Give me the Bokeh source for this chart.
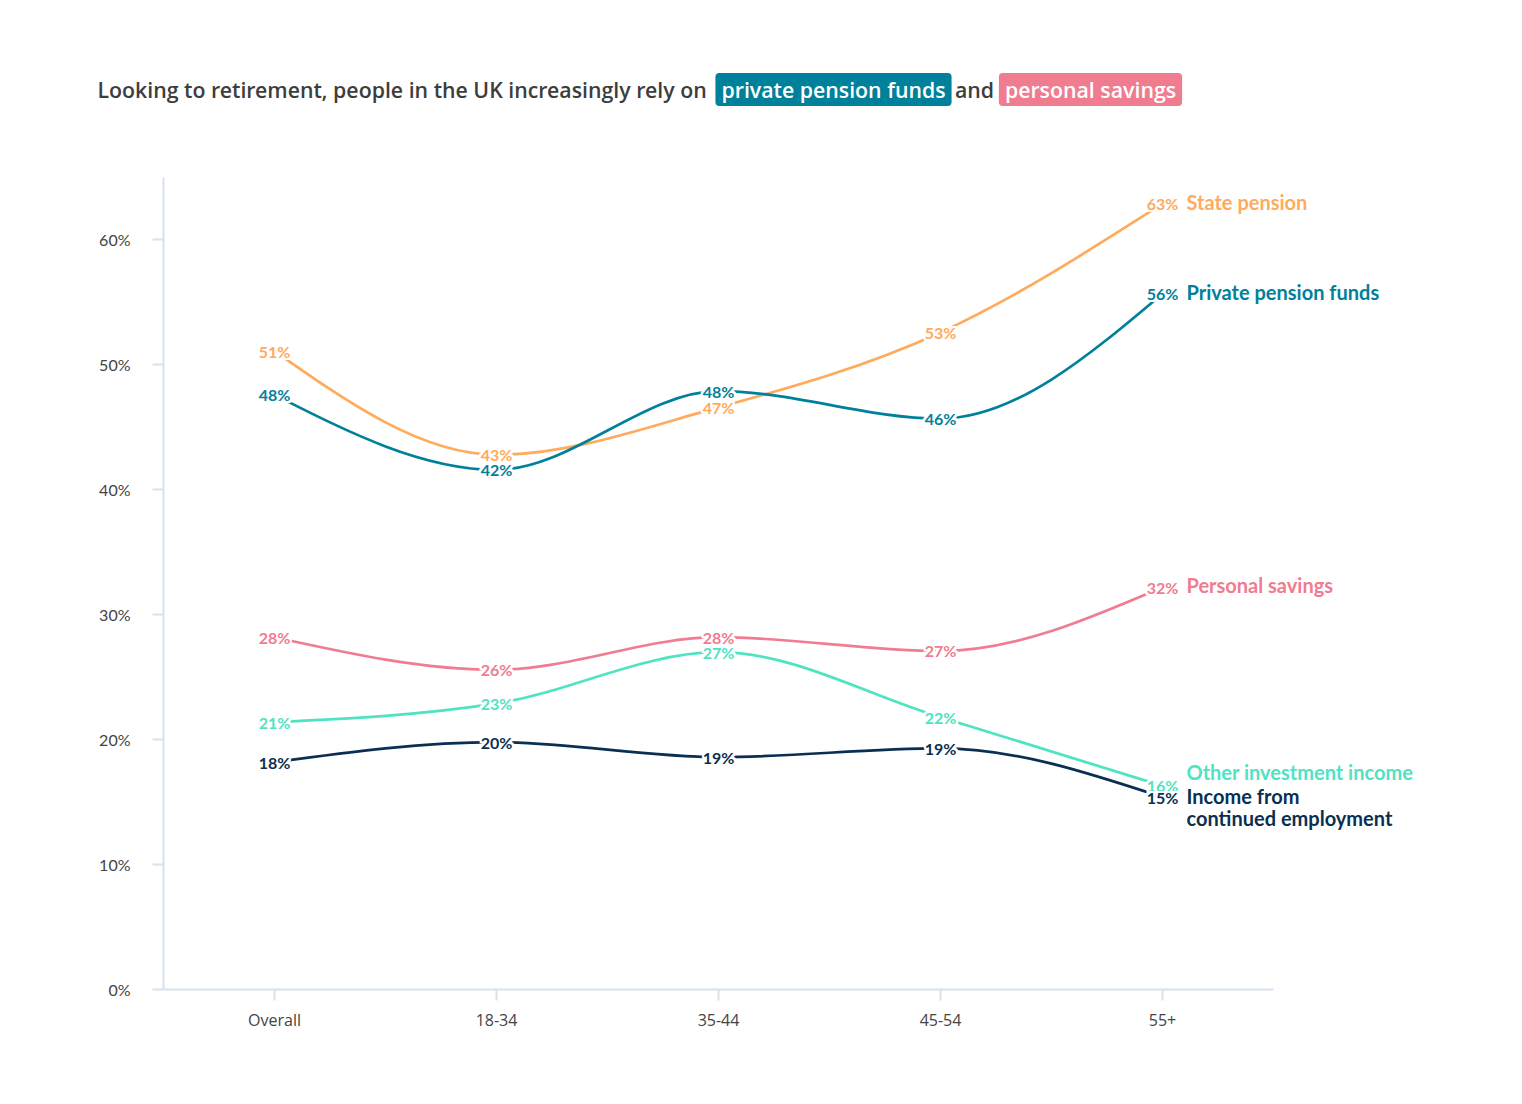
import numpy as np
from bokeh.plotting import figure
from bokeh.models import Label, FixedTicker, PrintfTickFormatter, Range1d, LinearAxis
from bokeh.core.properties import value
from bokeh.embed import file_html
from bokeh.resources import INLINE

# ---------------- data ----------------
categories = ["Overall", "18-34", "35-44", "45-54", "55+"]
state_pension = [51.1, 42.8, 46.6, 52.6, 62.9]
private_pension = [47.6, 41.6, 47.9, 45.7, 55.7]
personal_savings = [28.2, 25.6, 28.2, 27.1, 32.2]
other_investment = [21.4, 22.9, 27.0, 21.8, 16.3]
employment = [18.2, 19.8, 18.6, 19.3, 15.4]
y_ticks = [0, 10, 20, 30, 40, 50, 60]

series = [
    ("State pension", state_pension, "#ffaa5c"),
    ("Private pension funds", private_pension, "#00819b"),
    ("Personal savings", personal_savings, "#f07c90"),
    ("Other investment income", other_investment, "#4fe3c2"),
    ("Income from\ncontinued employment", employment, "#0b2f52"),
]

title_main = "Looking to retirement, people in the UK increasingly rely on"
title_hl1 = "private pension funds"
title_and = "and"
title_hl2 = "personal savings"

FONT = "Lato"
TFONT = "Open Sans SemiBold"
TSIZE = "21.3px"

# ---------------- layout helpers (page pixels) ----------------
W, H = 1520, 1100
AX_LEFT, AX_RIGHT, AX_TOP, AX_BOTTOM = 163, 1273, 177, 989
X_SPAN, Y_SPAN = 5.0, 65.0
PX_X = (AX_RIGHT - AX_LEFT) / X_SPAN
PX_Y = (AX_BOTTOM - AX_TOP) / Y_SPAN


def xd(px):
    return (px - AX_LEFT) / PX_X


def yd(py):
    return (AX_BOTTOM - py) / PX_Y


def monotone_beziers(xs, ys):
    xs = np.asarray(xs, float)
    ys = np.asarray(ys, float)
    n = len(xs)
    h = np.diff(xs)
    s = np.diff(ys) / h
    t = np.zeros(n)
    for i in range(1, n - 1):
        p_ = (s[i - 1] * h[i] + s[i] * h[i - 1]) / (h[i - 1] + h[i])
        t[i] = (np.sign(s[i - 1]) + np.sign(s[i])) * min(abs(s[i - 1]), abs(s[i]), 0.5 * abs(p_))
    t[0] = (3 * s[0] - t[1]) / 2
    t[-1] = (3 * s[-1] - t[-2]) / 2
    d = h / 3
    return dict(
        x0=xs[:-1], y0=ys[:-1], x1=xs[1:], y1=ys[1:],
        cx0=xs[:-1] + d, cy0=ys[:-1] + d * t[:-1],
        cx1=xs[1:] - d, cy1=ys[1:] - d * t[1:],
    )


xs = [i + 0.5 for i in range(len(categories))]

p = figure(
    width=W, height=H,
    x_range=Range1d(xd(0), xd(W)), y_range=Range1d(yd(H), yd(0)),
    output_backend="svg", toolbar_location=None,
    x_axis_location=None, y_axis_location=None,
    min_border=0, min_border_left=0, min_border_right=0,
    min_border_top=0, min_border_bottom=0,
    outline_line_color=None, background_fill_color="white",
    border_fill_color="white",
)
p.grid.visible = False

AX = "#d6e2ec"
yaxis = LinearAxis(fixed_location=0, bounds=(0, Y_SPAN))
xaxis = LinearAxis(fixed_location=0, bounds=(0, X_SPAN))
for ax in (xaxis, yaxis):
    ax.axis_line_color = AX
    ax.axis_line_width = 2
    ax.major_tick_line_color = AX
    ax.major_tick_line_width = 2
    ax.major_tick_in = 0
    ax.major_tick_out = 11
    ax.minor_tick_line_color = None
    ax.major_label_text_color = "#444444"

yaxis.major_label_text_font = FONT
yaxis.major_label_text_font_size = "16px"
xaxis.major_label_text_font = "Open Sans"
xaxis.major_label_text_font_size = "16px"

yaxis.ticker = FixedTicker(ticks=y_ticks)
yaxis.formatter = PrintfTickFormatter(format="%d%%")
yaxis.major_label_standoff = 22
xaxis.ticker = FixedTicker(ticks=xs)
xaxis.major_label_overrides = {x: c for x, c in zip(xs, categories)}
xaxis.major_label_standoff = 8
p.add_layout(yaxis, "left")
p.add_layout(xaxis, "below")

# lines
for name, vals, col in series:
    bz = monotone_beziers(xs, vals)
    p.bezier(line_color=col, line_width=2.7, line_cap="round", **bz)

# value labels with white halo
halo = [(dx, dy) for dx in (-2, -1, 0, 1, 2) for dy in (-2, -1, 0, 1, 2) if (dx, dy) != (0, 0)]
for name, vals, col in series:
    txt = [f"{int(np.floor(v + 0.5))}%" for v in vals]
    for dx, dy in halo:
        p.text(x=xs, y=vals, text=txt, x_offset=dx, y_offset=dy,
               text_color="white", text_align="center", text_baseline="middle",
               text_font=value(FONT), text_font_style="bold", text_font_size="16px")
    p.text(x=xs, y=vals, text=txt, text_color=col, text_align="center",
           text_baseline="middle", text_font=value(FONT), text_font_style="bold",
           text_font_size="16px")

# series names at right
name_offsets = {
    "State pension": [2],
    "Private pension funds": [2],
    "Personal savings": [2],
    "Other investment income": [14],
    "Income from\ncontinued employment": [1, -21],
}
for name, vals, col in series:
    for line_txt, off in zip(name.split("\n"), name_offsets[name]):
        p.add_layout(Label(x=xs[-1], y=vals[-1], x_offset=24, y_offset=off, text=line_txt,
                           text_color=col, text_align="left", text_baseline="middle",
                           text_font=FONT, text_font_style="bold", text_font_size="20px"))

# title
ty = yd(89)
p.add_layout(Label(x=xd(97), y=ty, text=title_main, text_align="left", text_baseline="middle",
                   text_color="#3d3d3d", text_font=TFONT, text_font_size=TSIZE))
p.add_layout(Label(x=xd(833), y=ty, text=title_hl1, text_align="center", text_baseline="middle",
                   text_color="white", text_font=TFONT,
                   text_font_size=TSIZE, background_fill_color="#00819b",
                   padding=(6, 2), border_radius=4))
p.add_layout(Label(x=xd(974), y=ty, text=title_and, text_align="center", text_baseline="middle",
                   text_color="#3d3d3d", text_font=TFONT,
                   text_font_size=TSIZE))
p.add_layout(Label(x=xd(1090), y=ty, text=title_hl2, text_align="center", text_baseline="middle",
                   text_color="white", text_font=TFONT,
                   text_font_size=TSIZE, background_fill_color="#f07c90",
                   padding=(6, 2), border_radius=4))

open("out.html", "w").write(file_html(p, INLINE))
